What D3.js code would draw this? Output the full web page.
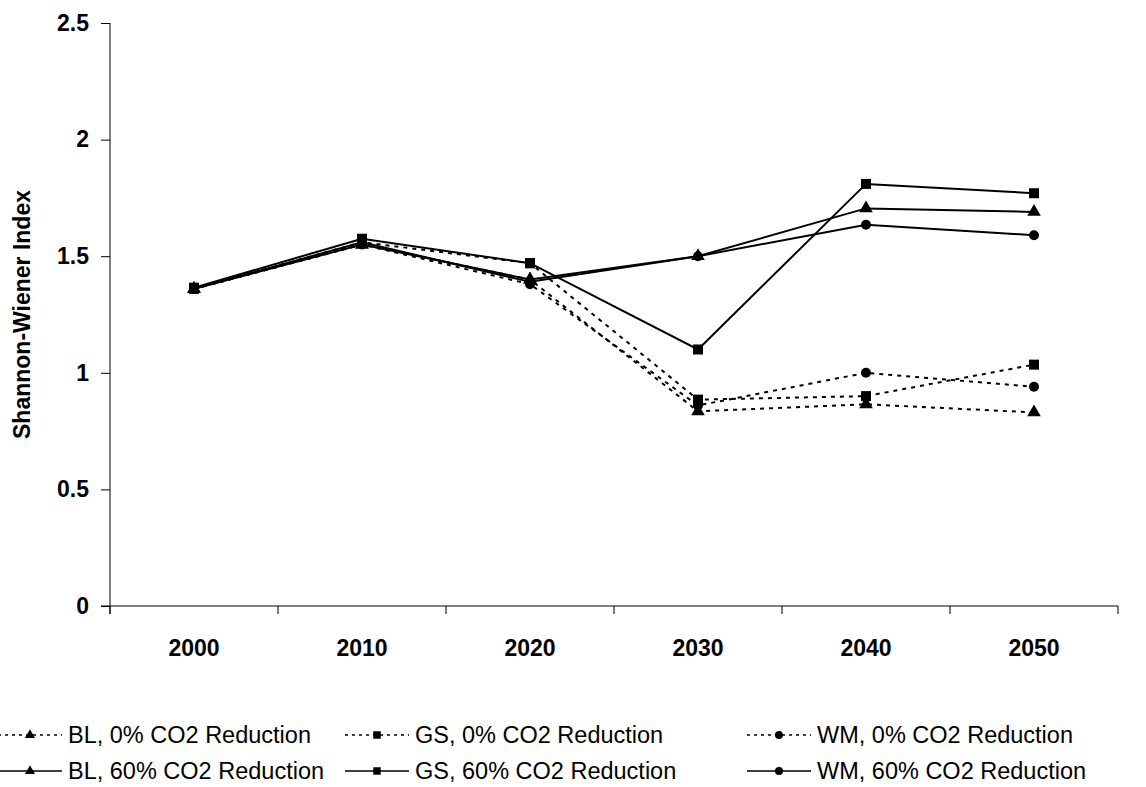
<!DOCTYPE html>
<html>
<head>
<meta charset="utf-8">
<script src="https://cdn.jsdelivr.net/npm/d3@7"></script>
<style>
  body { margin: 0; background: #fff; }
  svg text { font-family: "Liberation Sans", Arial, sans-serif; fill: #000; }
</style>
</head>
<body>
<div id="chart"></div>
<script>
var width = 1146,
    height = 787;

var years = ["2000", "2010", "2020", "2030", "2040", "2050"];
var yTicks = [0, 0.5, 1, 1.5, 2, 2.5];

var bl0  = [1.36, 1.55, 1.40, 0.835, 0.865, 0.83];
var gs0  = [1.36, 1.56, 1.47, 0.885, 0.90, 1.035];
var wm0  = [1.36, 1.55, 1.38, 0.86, 1.00, 0.94];
var bl60 = [1.36, 1.55, 1.40, 1.50, 1.705, 1.69];
var gs60 = [1.365, 1.575, 1.47, 1.10, 1.81, 1.77];
var wm60 = [1.36, 1.56, 1.39, 1.50, 1.635, 1.59];

var series = [
  { name: "BL, 0% CO2 Reduction",  values: bl0,  symbol: d3.symbolTriangle, dashed: true },
  { name: "GS, 0% CO2 Reduction",  values: gs0,  symbol: d3.symbolSquare,   dashed: true },
  { name: "WM, 0% CO2 Reduction",  values: wm0,  symbol: d3.symbolCircle,   dashed: true },
  { name: "BL, 60% CO2 Reduction", values: bl60, symbol: d3.symbolTriangle, dashed: false },
  { name: "GS, 60% CO2 Reduction", values: gs60, symbol: d3.symbolSquare,   dashed: false },
  { name: "WM, 60% CO2 Reduction", values: wm60, symbol: d3.symbolCircle,   dashed: false }
];

var symSize = function(sym, big) {
  if (sym === d3.symbolSquare) return big ? 100 : 56;
  if (sym === d3.symbolTriangle) return big ? 80 : 44;
  return big ? 78 : 50;
};

var x = d3.scaleBand().domain(years).range([110, 1118]).padding(0);
var y = d3.scaleLinear().domain([0, 2.5]).range([606, 23]);

var svg = d3.select("#chart").append("svg")
    .attr("width", width)
    .attr("height", height);

// axes
var yAxis = svg.append("g")
    .attr("transform", "translate(110,0)")
    .call(d3.axisLeft(y).tickValues(yTicks).tickSize(9).tickPadding(12)
      .tickFormat(function(d){ return d; }));
yAxis.selectAll("text").style("font-size", "23px").style("font-weight", "bold")
    .attr("font-family", null);
yAxis.select(".domain").attr("d", "M0,23V614");

var xAxis = svg.append("g")
    .attr("transform", "translate(0,606)")
    .call(d3.axisBottom(x).tickSize(0).tickPadding(34));
xAxis.selectAll("text").style("font-size", "23px").style("font-weight", "bold");
xAxis.select(".domain").attr("d", "M101,0H1118");

// tick marks between categories
svg.append("g").selectAll("line")
    .data(years.map(function(d){ return x(d); }).concat([x.range()[1]]))
  .enter().append("line")
    .attr("x1", function(d){ return d; })
    .attr("x2", function(d){ return d; })
    .attr("y1", 606).attr("y2", 614)
    .style("stroke", "#000");

svg.selectAll(".domain, .tick line").style("stroke", "#000");

svg.append("text")
    .attr("transform", "translate(30," + y(1.25) + ") rotate(-90)")
    .attr("text-anchor", "middle")
    .style("font-size", "23px")
    .style("font-weight", "bold")
    .text("Shannon-Wiener Index");

// lines
var line = d3.line()
    .x(function(d, i){ return x(years[i]) + x.bandwidth() / 2; })
    .y(function(d){ return y(d); });

series.forEach(function(s){
  svg.append("path")
      .datum(s.values)
      .attr("d", line)
      .style("fill", "none")
      .style("stroke", "#000")
      .style("stroke-width", 2)
      .style("stroke-dasharray", s.dashed ? "4,5" : null);
});

series.forEach(function(s){
  svg.append("g").selectAll("path")
      .data(s.values)
    .enter().append("path")
      .attr("d", d3.symbol().type(s.symbol).size(symSize(s.symbol, true)))
      .attr("transform", function(d, i){
        return "translate(" + (x(years[i]) + x.bandwidth() / 2) + "," + y(d) + ")";
      })
      .style("fill", "#000");
});

// legend
var legendCols = [-2, 345, 747],
    legendRows = [735, 771];

series.forEach(function(s, i){
  var lx = legendCols[i % 3],
      ly = legendRows[Math.floor(i / 3)];
  var g = svg.append("g").attr("transform", "translate(" + lx + "," + ly + ")");
  g.append("line")
      .attr("x1", 0).attr("x2", 64)
      .style("stroke", "#000")
      .style("stroke-width", 1.6)
      .style("stroke-dasharray", s.dashed ? "3,4" : null);
  g.append("path")
      .attr("d", d3.symbol().type(s.symbol).size(symSize(s.symbol, false)))
      .attr("transform", "translate(32,0)")
      .style("fill", "#000");
  g.append("text")
      .attr("x", 70)
      .attr("dy", "0.35em")
      .style("font-size", "23.5px")
      .text(s.name);
});
</script>
</body>
</html>
